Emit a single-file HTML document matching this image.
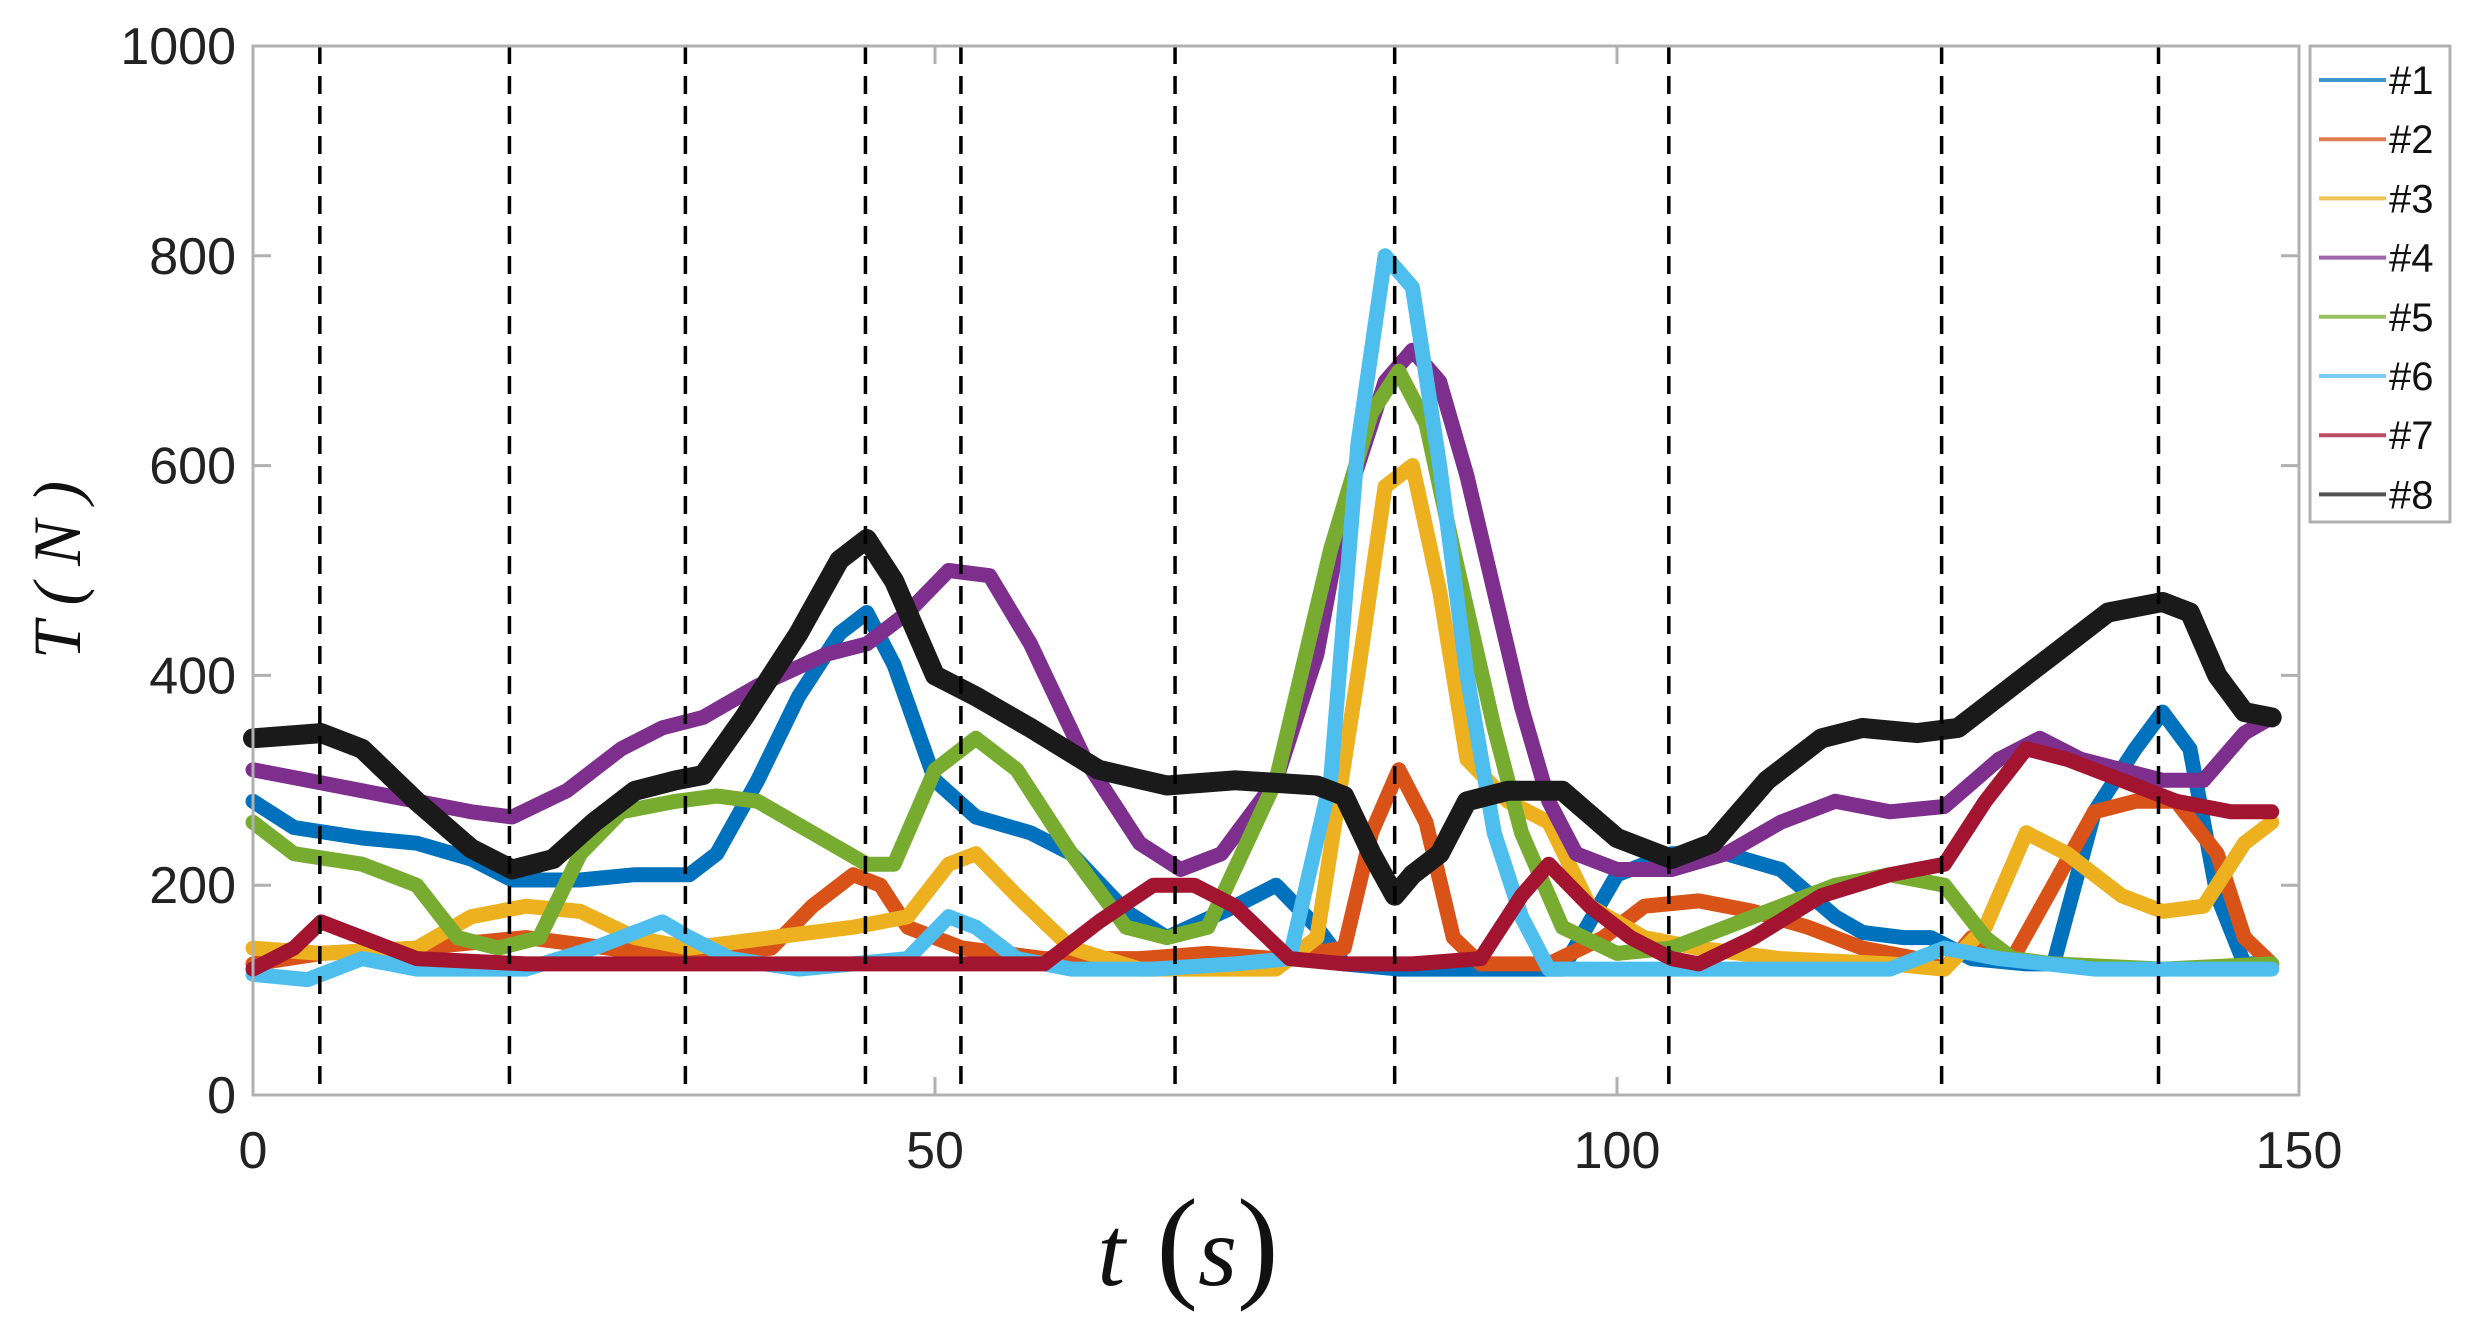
<!DOCTYPE html>
<html><head><meta charset="utf-8"><style>
body{margin:0;background:#fff}
svg{display:block}
</style></head><body>
<svg id="chart" width="2483" height="1340" viewBox="0 0 2483 1340" xmlns="http://www.w3.org/2000/svg">
<rect width="2483" height="1340" fill="#fff"/>
<g id="plot"></g>
<g id="axes"></g>
<g id="legend"></g>
<text transform="translate(80,570) rotate(-90)" text-anchor="middle" font-family="Liberation Serif, serif" font-style="italic" font-size="68" fill="#111">T ( N )</text>
<text x="1188" y="1285" text-anchor="middle" font-family="Liberation Serif, serif" font-style="italic" font-size="100" fill="#111">t<tspan font-style="normal" font-size="125"> (</tspan>s<tspan font-style="normal" font-size="125">)</tspan></text>
</svg>
<script>
const xTicks=[0,50,100,150];
const yTicks=[0,200,400,600,800,1000];
const eventTimes=[4.9,18.8,31.7,44.9,51.9,67.6,83.7,103.8,123.8,139.7];
const seriesNames=['#1','#2','#3','#4','#5','#6','#7','#8'];
const seriesColors=['#0072BD','#D95319','#EDB120','#7E2F8E','#77AC30','#4DBEEE','#A2142F','#1a1a1a'];
const t1=[0,3,8,12,16,19,24,28,32,34,37,40,43,45,47,50,53,57,60,64,67,72,75,78,80,84,90,96,100,104,108,112,116,118,121,123,126,130,132,135,138,140,142,144,146,148];
const v1=[280,255,245,240,225,205,205,210,210,230,300,380,440,460,410,300,265,250,230,175,150,180,200,160,125,120,120,120,210,230,230,215,170,155,150,150,130,125,125,270,330,365,330,190,125,125];
const t2=[0,5,12,20,26,32,38,41,44,46,48,52,58,65,70,75,80,82,84,86,88,90,95,99,102,106,110,114,118,122,124,126,129,132,135,138,141,144,146,148];
const v2=[125,135,140,150,140,130,140,180,210,200,160,140,130,130,135,130,140,250,310,260,150,125,125,150,180,185,175,160,140,130,120,150,130,200,270,280,280,230,150,125];
const t3=[0,5,12,16,20,24,28,32,38,44,48,51,53,56,60,65,70,75,78,81,83,85,87,89,92,95,98,102,106,112,120,124,127,130,133,137,140,143,146,148];
const v3=[140,135,140,170,180,175,150,140,150,160,170,220,230,190,140,120,120,120,150,400,580,600,480,320,280,260,180,150,140,130,125,120,160,250,230,190,175,180,240,260];
const t4=[0,4,8,12,16,19,23,27,30,33,37,42,45,48,51,54,57,61,65,68,71,75,78,80,83,85,87,89,91,93,95,97,100,104,108,112,116,120,124,128,131,134,137,140,143,146,148];
const v4=[310,300,290,280,270,265,290,330,350,360,390,420,430,460,500,495,430,320,240,215,230,300,420,560,680,710,680,590,480,370,280,230,215,215,230,260,280,270,275,320,340,320,310,300,300,345,360];
const t5=[0,3,8,12,15,18,21,24,27,31,34,37,41,45,47,50,53,56,60,64,67,70,75,79,82,84,86,88,91,93,96,100,104,108,112,116,120,124,127,129,132,140,148];
const v5=[260,230,220,200,150,140,150,230,270,280,285,280,250,220,220,310,340,310,230,160,150,160,300,520,650,690,640,520,350,250,160,135,140,160,180,200,210,200,150,130,125,120,125];
const t6=[0,4,8,12,20,25,30,32,35,40,44,48,51,53,56,60,66,72,76,79,81,83,85,87,89,91,93,95,100,110,120,124,128,135,148];
const v6=[115,110,130,120,120,140,165,150,130,120,125,130,170,160,130,120,120,125,130,300,620,800,770,600,400,250,170,120,120,120,120,140,130,120,120];
const t7=[0,3,5,8,12,20,30,40,50,58,62,66,69,72,76,80,85,90,93,95,98,101,104,106,110,115,120,124,127,130,133,137,141,145,148];
const v7=[120,140,165,150,130,125,125,125,125,125,165,200,200,180,130,125,125,130,190,220,180,150,130,125,150,190,210,220,280,330,320,300,280,270,270];
const t8=[0,5,8,12,16,19,22,25,28,31,33,36,40,43,45,47,50,53,57,62,67,72,78,80,82,83.7,85,87,89,92,96,100,104,107,111,115,118,122,125,128,132,136,140,142,144,146,148];
const v8=[340,345,330,280,235,215,225,260,290,300,305,360,440,510,530,490,400,380,350,310,295,300,295,285,230,190,210,230,280,290,290,245,225,240,300,340,350,345,350,380,420,460,470,460,400,365,360];
const seriesT=[t1,t2,t3,t4,t5,t6,t7,t8];
const seriesV=[v1,v2,v3,v4,v5,v6,v7,v8];

const L=253,R=2299,T=46,B=1095;
const X=t=>L+(t-0)/(150-0)*(R-L);
const Y=v=>B-(v-0)/(1000-0)*(B-T);
const NS='http://www.w3.org/2000/svg';
function mk(tag,attrs,parent){const e=document.createElementNS(NS,tag);for(const k in attrs)e.setAttribute(k,attrs[k]);parent.appendChild(e);return e;}
const plot=document.getElementById('plot'),axes=document.getElementById('axes'),legend=document.getElementById('legend');

seriesT.forEach((ts,i)=>{
  const pts=ts.map((t,j)=>X(t).toFixed(1)+','+Y(seriesV[i][j]).toFixed(1)).join(' ');
  const p=mk('polyline',{points:pts,fill:'none',stroke:seriesColors[i],'stroke-width':i===7?20:15,'stroke-linejoin':'round','stroke-linecap':'round'},plot);
  
  
});
eventTimes.forEach((t,i)=>{
  const l=mk('line',{x1:X(t),x2:X(t),y1:T,y2:B,stroke:'#000','stroke-width':3.5,'stroke-dasharray':'18,12'},plot);
  
  
});
const box=mk('rect',{x:L,y:T,width:R-L,height:B-T,fill:'none',stroke:'#b0b0b0','stroke-width':3},axes);


xTicks.forEach(v=>{
  mk('line',{x1:X(v),x2:X(v),y1:B,y2:B-18,stroke:'#b0b0b0','stroke-width':3},axes);
  mk('line',{x1:X(v),x2:X(v),y1:T,y2:T+18,stroke:'#b0b0b0','stroke-width':3},axes);
  const tx=mk('text',{x:X(v),y:1168,'text-anchor':'middle','font-family':'Liberation Sans, sans-serif','font-size':52,fill:'#222'},axes);
  tx.textContent=v;
  
  
});
yTicks.forEach(v=>{
  mk('line',{x1:L,x2:L+18,y1:Y(v),y2:Y(v),stroke:'#b0b0b0','stroke-width':3},axes);
  mk('line',{x1:R,x2:R-18,y1:Y(v),y2:Y(v),stroke:'#b0b0b0','stroke-width':3},axes);
  const tx=mk('text',{x:236,y:Y(v)+18,'text-anchor':'end','font-family':'Liberation Sans, sans-serif','font-size':52,fill:'#222'},axes);
  tx.textContent=v;
  
  
});
const lb=mk('rect',{x:2310,y:46,width:140,height:476,fill:'#fff',stroke:'#b0b0b0','stroke-width':3},legend);


seriesNames.forEach((n,i)=>{
  const y=80+i*59.2;
  const g=mk('g',{},legend);
  
  
  mk('line',{x1:2319,x2:2386,y1:y,y2:y,stroke:seriesColors[i],'stroke-width':4,opacity:0.75},g);
  const tx=mk('text',{x:2389,y:y+14,'font-family':'Liberation Sans, sans-serif','font-size':40,fill:'#111'},g);
  tx.textContent=n;
});
</script>
</body></html>
